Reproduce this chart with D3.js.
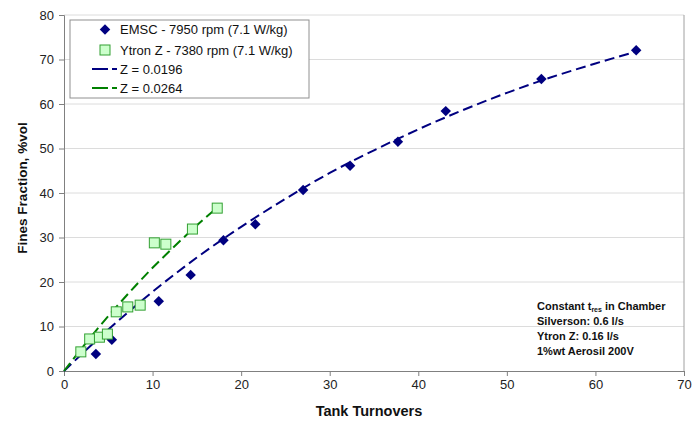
<!DOCTYPE html>
<html>
<head>
<meta charset="utf-8">
<script src="https://cdn.jsdelivr.net/npm/d3@7"></script>
<style>
  body { margin: 0; background: #fff; }
  text { font-family: "Liberation Sans", Arial, sans-serif; }
</style>
</head>
<body>
<div id="chart"></div>
<script>
// measured points
const emscX = [3.6, 5.4, 10.7, 14.3, 18.0, 21.6, 27.0, 32.3, 37.7, 43.1, 53.9, 64.6];
const emscY = [3.8, 7.0, 15.7, 21.6, 29.4, 33.0, 40.7, 46.1, 51.5, 58.4, 65.6, 72.1];

const ytronX = [1.9, 2.9, 4.0, 4.9, 5.9, 7.2, 8.6, 10.2, 11.5, 14.5, 17.3];
const ytronY = [4.3, 7.2, 7.6, 8.3, 13.3, 14.4, 14.8, 28.8, 28.5, 31.9, 36.6];

// fitted curves
const fitBlueX = [0, 5, 10, 15, 20, 25, 30, 35, 40, 45, 50, 55, 60, 65];
const fitBlueY = [0, 9.3, 17.8, 25.5, 32.4, 38.7, 44.5, 49.6, 54.3, 58.6, 62.5, 66.0, 69.1, 72.0];
const fitGreenX = [0, 2, 4, 6, 8, 10, 12, 14, 16, 17.3];
const fitGreenY = [0, 5.1, 10.0, 14.6, 19.0, 23.2, 27.1, 30.9, 34.5, 36.7];

const xTicks = [0, 10, 20, 30, 40, 50, 60, 70];
const yTicks = [0, 10, 20, 30, 40, 50, 60, 70, 80];

const legendLabels = ["EMSC - 7950 rpm (7.1 W/kg)", "Ytron Z - 7380 rpm (7.1 W/kg)", "Z = 0.0196", "Z = 0.0264"];
const noteLines = ["Constant t|res| in Chamber", "Silverson: 0.6 l/s", "Ytron Z: 0.16 l/s", "1%wt  Aerosil 200V"];

const W = 696, H = 422;
const margin = { top: 15, right: 12, bottom: 51, left: 64 };
const width = W - margin.left - margin.right;
const height = H - margin.top - margin.bottom;

const svg = d3.select("#chart").append("svg")
    .attr("width", W)
    .attr("height", H);

const g = svg.append("g")
    .attr("transform", "translate(" + margin.left + "," + margin.top + ")");

const x = d3.scaleLinear().domain([0, 70]).range([0, width]);
const y = d3.scaleLinear().domain([0, 80]).range([height, 0]);

// gridlines
g.append("g")
    .selectAll("line")
    .data(yTicks.slice(1))
  .enter().append("line")
    .attr("x1", 0).attr("x2", width)
    .attr("y1", d => y(d)).attr("y2", d => y(d))
    .attr("stroke", "#dcdcdc")
    .attr("stroke-width", 1);

// plot border right
g.append("line")
    .attr("x1", width).attr("x2", width)
    .attr("y1", 0).attr("y2", height)
    .attr("stroke", "#a0a0a0");

const xAxis = g.append("g")
    .attr("transform", "translate(0," + height + ")")
    .call(d3.axisBottom(x).tickValues(xTicks).tickSize(5).tickPadding(4));

const yAxis = g.append("g")
    .call(d3.axisLeft(y).tickValues(yTicks).tickSize(5).tickPadding(5));

[xAxis, yAxis].forEach(a => {
    a.select(".domain").attr("stroke", "#808080");
    a.selectAll(".tick line").attr("stroke", "#808080");
    a.selectAll(".tick text")
        .attr("fill", "#222")
        .style("font-size", "13px")
        .style("font-family", "Liberation Sans, Arial, sans-serif");
});

// fitted lines
const line = d3.line()
    .x(d => x(d[0]))
    .y(d => y(d[1]))
    .curve(d3.curveMonotoneX);

g.append("path")
    .datum(fitBlueX.map((v, i) => [v, fitBlueY[i]]))
    .attr("d", line)
    .attr("fill", "none")
    .attr("stroke", "#000080")
    .attr("stroke-width", 2)
    .attr("stroke-dasharray", "10,5");

g.append("path")
    .datum(fitGreenX.map((v, i) => [v, fitGreenY[i]]))
    .attr("d", line)
    .attr("fill", "none")
    .attr("stroke", "#008000")
    .attr("stroke-width", 2)
    .attr("stroke-dasharray", "10,5");

// markers
const diamond = d3.symbol().type(d3.symbolDiamond2).size(70);

g.selectAll(".emsc")
    .data(emscX.map((v, i) => [v, emscY[i]]))
  .enter().append("path")
    .attr("class", "emsc")
    .attr("d", diamond)
    .attr("transform", d => "translate(" + x(d[0]) + "," + y(d[1]) + ")")
    .attr("fill", "#000080");

g.selectAll(".ytron")
    .data(ytronX.map((v, i) => [v, ytronY[i]]))
  .enter().append("rect")
    .attr("class", "ytron")
    .attr("x", d => x(d[0]) - 5)
    .attr("y", d => y(d[1]) - 5)
    .attr("width", 10)
    .attr("height", 10)
    .attr("fill", "#ccffcc")
    .attr("stroke", "#33a033")
    .attr("stroke-width", 1);

// legend
const leg = svg.append("g").attr("transform", "translate(70,20)");
leg.append("rect")
    .attr("width", 239).attr("height", 78)
    .attr("fill", "#fff")
    .attr("stroke", "#909090");

const rowY = [9.5, 30, 49, 68];
leg.append("path")
    .attr("d", diamond)
    .attr("transform", "translate(35," + rowY[0] + ")")
    .attr("fill", "#000080");
leg.append("rect")
    .attr("x", 30).attr("y", rowY[1] - 5)
    .attr("width", 10).attr("height", 10)
    .attr("fill", "#ccffcc").attr("stroke", "#33a033");
[["#000080", rowY[2]], ["#008000", rowY[3]]].forEach(([c, yy]) => {
    leg.append("line")
        .attr("x1", 22).attr("x2", 47)
        .attr("y1", yy).attr("y2", yy)
        .attr("stroke", c).attr("stroke-width", 2)
        .attr("stroke-dasharray", "16,4,5");
});
leg.selectAll(".lt")
    .data(legendLabels)
  .enter().append("text")
    .attr("class", "lt")
    .attr("x", 50)
    .attr("y", (d, i) => rowY[i])
    .attr("dy", "0.35em")
    .style("font-size", "13px")
    .attr("fill", "#111")
    .text(d => d);

// note
const note = svg.append("g").attr("transform", "translate(537,310)");
noteLines.forEach((t, i) => {
    const tx = note.append("text")
        .attr("x", 0)
        .attr("y", i * 15)
        .style("font-size", "11px")
        .style("font-weight", "bold")
        .attr("fill", "#111");
    if (t.indexOf("|") >= 0) {
        const parts = t.split("|");
        tx.append("tspan").text(parts[0]);
        tx.append("tspan").text(parts[1]).style("font-size", "7px").attr("dy", 2);
        tx.append("tspan").text(parts[2]).attr("dy", -2);
    } else {
        tx.text(t);
    }
});

// axis titles
svg.append("text")
    .attr("x", 369)
    .attr("y", 416)
    .attr("text-anchor", "middle")
    .style("font-size", "14.5px")
    .style("font-weight", "bold")
    .attr("fill", "#111")
    .text("Tank Turnovers");

svg.append("text")
    .attr("transform", "translate(27,188) rotate(-90)")
    .attr("text-anchor", "middle")
    .style("font-size", "13.5px")
    .style("font-weight", "bold")
    .attr("fill", "#111")
    .text("Fines Fraction, %vol");
</script>
</body>
</html>
